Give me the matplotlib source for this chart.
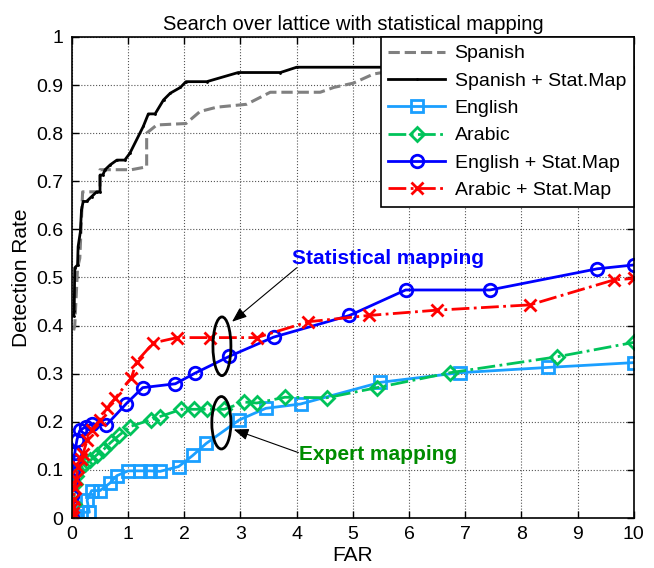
#!/usr/bin/env python3
"""Detection rate vs FAR, search over lattice with statistical mapping."""
import matplotlib
matplotlib.use("Agg")
import matplotlib.pyplot as plt
from matplotlib.patches import Ellipse

plt.rcParams["font.family"] = ["Liberation Sans", "DejaVu Sans"]

# Spanish (dashed gray)
spanish_far = [0.03, 0.05, 0.10, 0.14, 0.19, 0.50, 0.50, 1.06, 1.33, 1.33, 1.51,
               2.03, 2.28, 2.58, 3.11, 3.53, 4.42, 4.66, 5.01, 5.37, 6.0, 10.0]
spanish_dr = [0.39, 0.40, 0.52, 0.54, 0.678, 0.678, 0.724, 0.724, 0.73, 0.80, 0.817,
              0.82, 0.845, 0.854, 0.86, 0.885, 0.885, 0.895, 0.904, 0.923, 0.935, 0.95]

# Spanish + Stat.Map (black solid)
spanish_sm_far = [0.03, 0.04, 0.05, 0.10, 0.11, 0.15, 0.17, 0.20, 0.26, 0.35, 0.44,
                  0.50, 0.50, 0.55, 0.59, 0.68, 0.80, 0.94, 1.03, 1.27, 1.36, 1.48,
                  1.63, 1.75, 1.93, 2.03, 2.40, 2.96, 3.71, 4.0, 10.0]
spanish_sm_dr = [0.42, 0.43, 0.52, 0.526, 0.564, 0.595, 0.64, 0.658, 0.658, 0.668, 0.678,
                 0.678, 0.713, 0.713, 0.724, 0.734, 0.744, 0.744, 0.758, 0.814, 0.84, 0.84,
                 0.869, 0.883, 0.895, 0.907, 0.907, 0.926, 0.926, 0.937, 0.937]

# English (light blue squares)
english_far = [0.0, 0.05, 0.17, 0.31, 0.27, 0.35, 0.50, 0.67, 0.80, 1.0, 1.21, 1.39,
               1.57, 1.90, 2.15, 2.39, 2.98, 3.45, 4.07, 5.49, 6.90, 8.47, 10.0]
english_dr = [0.0, 0.004, 0.012, 0.012, 0.037, 0.057, 0.057, 0.072, 0.088, 0.098, 0.098, 0.098,
              0.097, 0.107, 0.130, 0.155, 0.204, 0.228, 0.237, 0.282, 0.302, 0.313, 0.323]

# Arabic (green diamonds)
arabic_far = [0.0, 0.03, 0.05, 0.08, 0.14, 0.24, 0.33, 0.44, 0.56, 0.69, 0.84, 1.03,
              1.40, 1.57, 1.95, 2.17, 2.40, 2.71, 3.07, 3.29, 3.79, 4.54, 5.43, 6.73,
              8.63, 10.0]
arabic_dr = [0.0, 0.03, 0.07, 0.088, 0.103, 0.112, 0.12, 0.131, 0.142, 0.157, 0.172, 0.19,
             0.204, 0.211, 0.226, 0.226, 0.226, 0.226, 0.241, 0.239, 0.251, 0.25, 0.271, 0.302,
             0.335, 0.365]

# English + Stat.Map (blue circles)
english_sm_far = [0.0, 0.0, 0.0, 0.01, 0.03, 0.05, 0.09, 0.14, 0.25, 0.36, 0.61, 0.97,
                  1.26, 1.84, 2.19, 2.80, 3.59, 4.94, 5.94, 7.44, 9.35, 10.0]
english_sm_dr = [0.0, 0.045, 0.079, 0.10, 0.118, 0.135, 0.163, 0.182, 0.19, 0.196, 0.193, 0.238,
                 0.271, 0.279, 0.301, 0.336, 0.376, 0.421, 0.474, 0.474, 0.518, 0.526]

# Arabic + Stat.Map (red crosses)
arabic_sm_far = [0.0, 0.01, 0.02, 0.03, 0.05, 0.08, 0.11, 0.16, 0.20, 0.27, 0.35, 0.50,
                 0.62, 0.77, 1.06, 1.15, 1.45, 1.87, 2.46, 3.29, 4.21, 5.28, 6.49, 8.15,
                 9.65, 10.0]
arabic_sm_dr = [0.0, 0.01, 0.023, 0.04, 0.062, 0.082, 0.107, 0.122, 0.134, 0.162, 0.183, 0.204,
                0.228, 0.249, 0.292, 0.325, 0.364, 0.375, 0.375, 0.375, 0.408, 0.421, 0.432, 0.443,
                0.495, 0.498]

C_EN = "#1A9FFF"
C_AR = "#00C35A"

fig = plt.figure(figsize=(6.54, 5.68), dpi=100)
ax = fig.add_axes([0.110, 0.088, 0.859, 0.847])

ax.plot(spanish_far, spanish_dr, color="#808080", linestyle="--", linewidth=2.2,
        label="Spanish")
ax.plot(spanish_sm_far, spanish_sm_dr, color="black", linestyle="-", linewidth=2.0,
        marker=".", markersize=2, label="Spanish + Stat.Map")
ax.plot(english_far, english_dr, color=C_EN, linestyle="-", linewidth=2.0,
        marker="s", markersize=8, markerfacecolor="none", markeredgewidth=2.0,
        label="English")
ax.plot(arabic_far, arabic_dr, color=C_AR, linestyle="-.", linewidth=2.0,
        marker="D", markersize=7, markerfacecolor="none", markeredgewidth=2.0,
        label="Arabic")
ax.plot(english_sm_far, english_sm_dr, color="#0000FF", linestyle="-", linewidth=2.0,
        marker="o", markersize=9, markerfacecolor="none", markeredgewidth=2.0,
        label="English + Stat.Map")
ax.plot(arabic_sm_far, arabic_sm_dr, color="#FF0000", linestyle="-.", linewidth=2.0,
        marker="x", markersize=8, markeredgewidth=2.0,
        label="Arabic + Stat.Map")

# Ellipses and annotations
ax.add_patch(Ellipse((2.67, 0.357), 0.32, 0.122, fill=False, edgecolor="black",
                     linewidth=2.0, zorder=6))
ax.add_patch(Ellipse((2.66, 0.198), 0.34, 0.109, fill=False, edgecolor="black",
                     linewidth=2.0, zorder=6))
arrow = dict(arrowstyle="-|>,head_length=0.9,head_width=0.35", color="black",
             linewidth=0.8, shrinkA=0, shrinkB=0)
ax.annotate("", xy=(2.85, 0.408), xytext=(4.0, 0.52), arrowprops=arrow, zorder=7)
ax.annotate("", xy=(2.88, 0.184), xytext=(4.03, 0.136), arrowprops=arrow, zorder=7)
ax.text(5.63, 0.54, "Statistical mapping", color="#0000FF", fontsize=15,
        fontweight="bold", ha="center", va="center")
ax.text(5.45, 0.133, "Expert mapping", color="#008C00", fontsize=15,
        fontweight="bold", ha="center", va="center")

ax.set_xlim(0, 10)
ax.set_ylim(0, 1)
ax.set_xticks(range(0, 11))
ax.set_yticks([i / 10 for i in range(11)])
ax.set_yticklabels(["0"] + [f"{i / 10:g}" for i in range(1, 10)] + ["1"])
ax.tick_params(direction="in", top=True, right=True, labelsize=14, length=5,
               width=1.0, pad=6)
ax.grid(True, linestyle=":", color="#555555", linewidth=0.8)
for s in ax.spines.values():
    s.set_linewidth(1.2)

ax.set_xlabel("FAR", fontsize=15, labelpad=2)
ax.set_ylabel("Detection Rate", fontsize=15, labelpad=4)
ax.set_title("Search over lattice with statistical mapping", fontsize=14.5, pad=5)

leg = ax.legend(loc="upper right", borderaxespad=0, fancybox=False,
                edgecolor="black", framealpha=1, fontsize=14, handlelength=2.9,
                labelspacing=0.5, borderpad=0.4, handletextpad=0.5)
leg.get_frame().set_linewidth(1.2)

fig.savefig("out.png", dpi=100)
